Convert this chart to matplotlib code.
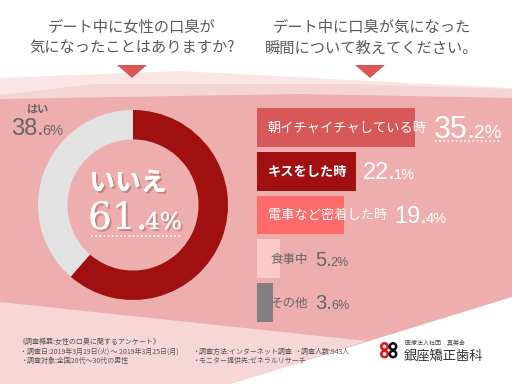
import matplotlib
matplotlib.use("Agg")
import matplotlib.pyplot as plt
import matplotlib.patheffects as pe
from matplotlib.patches import Polygon, Circle

plt.rcParams['font.family'] = ['Noto Sans CJK JP', 'DejaVu Sans']

# data
pie_labels = ['いいえ', 'はい']
pie_values = [61.4, 38.6]
pie_colors = ['#a01010', '#e2e2e2']

bar_labels = ['朝イチャイチャしている時', 'キスをした時', '電車など密着した時', '食事中', 'その他']
bar_values = [35.2, 22.1, 19.4, 5.2, 3.6]
bar_colors = ['#d65858', '#a01010', '#fd6b6b', '#fcc9c9', '#808080']
text_colors = ['white', 'white', 'white', '#666666', '#666666']

q1 = 'デート中に女性の口臭が\n気になったことはありますか?'
q2 = 'デート中に口臭が気になった\n瞬間について教えてください。'

notes = [
    ('《調査概要:女性の口臭に関するアンケート》', 18, 342),
    ('・調査日:2019年3月19日(火) 〜 2019年3月25日(月)', 20, 352),
    ('・調査方法:インターネット調査', 192, 352),
    ('・調査人数:943人', 294, 352),
    ('・調査対象:全国20代〜30代の男性', 20, 361),
    ('・モニター提供先:ゼネラルリサーチ', 192, 361),
]

W, H = 512, 384
fig = plt.figure(figsize=(W / 100, H / 100), dpi=100)
fig.patch.set_facecolor('white')


def px_axes(left, top, w, h, z):
    return fig.add_axes([left / W, 1 - (top + h) / H, w / W, h / H], zorder=z)


# background in pixel coords
bg = px_axes(0, 0, W, H, 0)
bg.set_xlim(0, W)
bg.set_ylim(H, 0)
bg.axis('off')
shapes = [
    ([(0, 78), (180, 71), (350, 80), (512, 88), (512, 384), (0, 384)], '#f9e5e5'),
    ([(0, 95), (95, 84), (350, 84), (512, 89), (512, 384), (0, 384)], '#f5d4d4'),
    ([(0, 99), (300, 94), (512, 98), (512, 384), (0, 384)], '#eeaeae'),
    ([(0, 302), (367, 341), (230, 384), (0, 384)], '#f6d6d6'),
    ([(512, 297), (230, 384), (512, 384)], 'white'),
]
for pts, c in shapes:
    bg.add_patch(Polygon(pts, closed=True, color=c, lw=0))

# question headings + triangles
bg.text(132, 38, q1, ha='center', va='center', fontsize=11, color='#5a5a5a', linespacing=1.3)
bg.text(372, 38, q2, ha='center', va='center', fontsize=11, color='#5a5a5a', linespacing=1.3)
for cx in (132, 370):
    bg.add_patch(Polygon([(cx - 15, 65), (cx + 15, 65), (cx, 78)], color='#d95757', lw=0))

# donut
ax_pie = px_axes(38, 110, 190, 190, 2)
ax_pie.pie(pie_values, colors=pie_colors, startangle=90, counterclock=False,
           radius=1, wedgeprops=dict(width=0.31, linewidth=0))
ax_pie.set_xlim(-1, 1)
ax_pie.set_ylim(-1, 1)
ax_pie.set_aspect('equal')
ax_pie.axis('off')

# bars
scale = 4.48  # px per percent
ax_bar = px_axes(257, 105, W - 257, 220, 2)
ax_bar.set_xlim(0, (W - 257) / scale)
ax_bar.set_ylim(4.514, -0.514)
ax_bar.axis('off')
ax_bar.barh(range(len(bar_values)), bar_values, height=0.89, color=bar_colors)

# overlay for text
ov = px_axes(0, 0, W, H, 5)
ov.set_xlim(0, W)
ov.set_ylim(H, 0)
ov.axis('off')
ov.patch.set_visible(False)

fig.canvas.draw()
renderer = fig.canvas.get_renderer()
inv = ov.transData.inverted()


def right_px(t):
    bb = t.get_window_extent(renderer)
    return inv.transform((bb.x1, bb.y0))[0]


def number(x, y, big, small, size, color, font, effects=None):
    t1 = ov.text(x, y, big, fontsize=size, color=color, family=font, va='baseline',
                 path_effects=effects)
    x2 = right_px(t1) - size * 0.1
    t2 = ov.text(x2, y, small, fontsize=size * 0.62, color=color, family=font,
                 va='baseline', path_effects=effects)
    return right_px(t2)


# donut labels
shadow = [pe.withSimplePatchShadow(offset=(1.5, -1.5), shadow_rgbFace='#7a3a3a', alpha=0.35), pe.Normal()]
ov.text(128, 183, pie_labels[0], ha='center', va='center', fontsize=18.5, color='white',
        fontweight='bold', path_effects=shadow)
end = number(88, 229, '61.', '4%', 27, 'white', ['DejaVu Serif'], shadow)
ov.plot([91, end], [236, 236], color='white', lw=1.2, ls=(0, (1, 1.5)))
ov.text(38, 110, pie_labels[1], ha='center', va='center', fontsize=8, color='#666666', fontweight='bold')
number(11, 135, '38.', '6%', 17, '#666666', ['Liberation Sans'])

# bar labels and values
for i, (lab, v) in enumerate(zip(bar_labels, bar_values)):
    yc = 127.5 + 43.75 * i
    lx = 268 if v > 10 else 271
    t = ov.text(lx, yc + 1, lab, va='center', fontsize=9.5 if i < 3 else 9,
                color=text_colors[i], fontweight='bold' if i == 1 else 'normal')
    vx = max(right_px(t), 257 + v * scale) + 7
    s = str(v)
    big, small = s.split('.')
    size = 22 if i == 0 else (17 if i < 3 else 14.5)
    end = number(vx, yc + size * 0.48, big + '.', small + '%', size,
                 text_colors[i], ['Liberation Sans'])
    if i == 0:
        ov.plot([vx + 1, end], [141, 141], color='white', lw=1.2, ls=(0, (1, 1.5)))

# footer notes
for txt, x, y in notes:
    ov.text(x, y, txt, fontsize=5.0, color='#555555', va='center')

# logo: two stacked-ring "8" marks
for cx, c in ((384.5, '#e01010'), (393, '#111111')):
    for cy in (346.5, 354):
        ov.add_patch(Circle((cx, cy), 3.2, fill=False, ec=c, lw=1.8))
ov.text(405, 343, '医療法人社団　真美会', fontsize=4.3, color='#444444', va='center')
ov.text(404, 356, '銀座矯正歯科', fontsize=9.5, color='#333333', va='center')

fig.savefig('out.png', dpi=100)
